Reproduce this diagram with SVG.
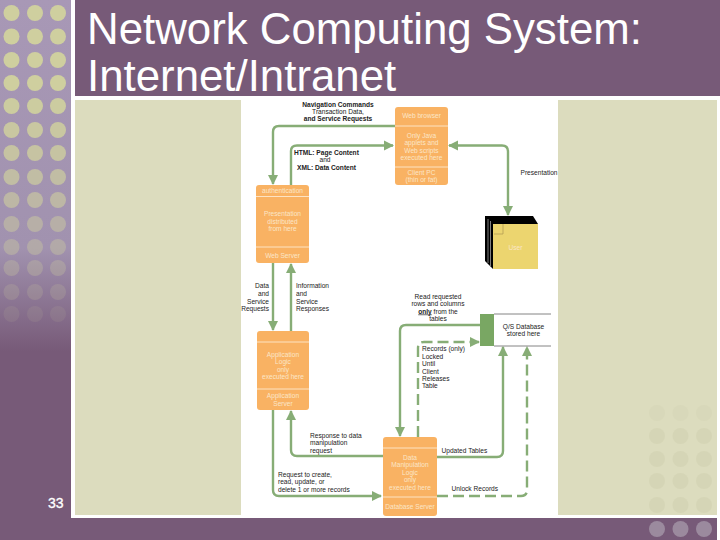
<svg xmlns="http://www.w3.org/2000/svg" width="720" height="540" viewBox="0 0 720 540">
<style>
text{font-family:"Liberation Sans",Arial,sans-serif}
.t{font-size:6.6px;fill:#222}
.b{font-weight:bold}
.c{text-anchor:middle}
.r{text-anchor:end}
.w{font-size:6.6px;fill:#fbe6c8;text-anchor:middle}
.box{fill:#f9b263}
.div{stroke:#fde3c3;stroke-width:1;fill:none}
.ln{fill:none;stroke:#87ad76;stroke-width:2.4}
.ds{stroke-dasharray:11 5}
.title{font-size:43.8px;fill:#fff}
</style>
<defs>
<linearGradient id="side" x1="0" y1="0" x2="0" y2="1">
<stop offset="0" stop-color="#a898b6"/><stop offset="0.46" stop-color="#a192af"/><stop offset="0.65" stop-color="#775a78"/><stop offset="1" stop-color="#775a78"/>
</linearGradient>
<marker id="a" viewBox="0 0 10 10" refX="9" refY="5" markerWidth="4.2" markerHeight="4.2" orient="auto-start-reverse"><path d="M0 0L10 5L0 10Z" fill="#87ad76"/></marker>
<g id="l"><circle cx="11.5" r="8"/><circle cx="35" r="8"/><circle cx="58" r="8"/></g>
<g id="q"><circle cx="657" r="8"/><circle cx="680.5" r="8"/><circle cx="704" r="8"/></g>
</defs>
<rect width="720" height="540" fill="#fff"/>
<rect x="0" y="0" width="71" height="540" fill="url(#side)"/>
<rect x="75" y="0" width="645" height="96" fill="#775a78"/>
<rect x="75" y="100" width="642" height="415" fill="#dcdcbe"/>
<rect x="0" y="518" width="717" height="22" fill="#775a78"/>
<g fill="#cfcf9f">
<use href="#l" y="13"/><use href="#l" y="36.5"/><use href="#l" y="60"/><use href="#l" y="83"/><use href="#l" y="106" opacity=".95"/><use href="#l" y="130" opacity=".88"/><use href="#l" y="153" opacity=".8"/><use href="#l" y="177" opacity=".7"/><use href="#l" y="200" opacity=".6"/><use href="#l" y="224" opacity=".48"/><use href="#l" y="247" opacity=".38"/><use href="#l" y="268" opacity=".28"/><use href="#l" y="292" opacity=".18"/><use href="#l" y="314" opacity=".1"/>
</g>
<g fill="#c8c8a6" opacity=".3">
<use href="#q" y="413" opacity=".5"/><use href="#q" y="436"/><use href="#q" y="459"/><use href="#q" y="481"/><use href="#q" y="505"/>
</g>
<use href="#q" y="529" fill="#9b8a9e"/>
<text class="title" x="87" y="44">Network Computing System:</text>
<text class="title" x="87" y="91">Internet/Intranet</text>
<text x="48" y="508" font-size="14" fill="#fff" stroke="#fff" stroke-width=".3">33</text>
<rect x="241" y="100" width="317" height="415" fill="#fff"/>
<g id="connectors">
<path class="ln" d="M395 126H279Q273 126 273 132V184" marker-end="url(#a)"/>
<path class="ln" d="M291 185V151Q291 145.500 297 145.500H393" marker-end="url(#a)"/>
<path class="ln" d="M449 145.500H502Q508 145.500 508 151.500V215" marker-start="url(#a)" marker-end="url(#a)"/>
<path class="ln" d="M273 263V330" marker-end="url(#a)"/>
<path class="ln" d="M291 331V264" marker-end="url(#a)"/>
<path class="ln" d="M480 325H406Q400 325 400 331V436" marker-end="url(#a)"/>
<path class="ln ds" d="M418 437V348Q418 342 424 342H479" marker-end="url(#a)"/>
<path class="ln" d="M437 457H497Q503 457 503 451V347" marker-end="url(#a)"/>
<path class="ln ds" d="M437 496H521Q527 496 527 490V347" marker-end="url(#a)"/>
<path class="ln" d="M383 456H297Q291 456 291 450V411" marker-end="url(#a)"/>
<path class="ln" d="M273 410V490Q273 496 279 496H381" marker-end="url(#a)"/>
</g>
<g id="web-browser">
<rect class="box" x="395" y="107" width="53" height="78" rx="3"/>
<path class="div" d="M395 126H448M395 167H448"/>
<text class="w" x="421.500" y="118">Web browser</text>
<text class="w" x="421.500" y="137.500">Only Java</text>
<text class="w" x="421.500" y="145">applets and</text>
<text class="w" x="421.500" y="152.500">Web scripts</text>
<text class="w" x="421.500" y="160">executed here</text>
<text class="w" x="421.500" y="174.500">Client PC</text>
<text class="w" x="421.500" y="182">(thin or fat)</text>
</g>
<g id="web-server">
<rect class="box" x="256" y="185" width="53" height="78" rx="3"/>
<path class="div" d="M256 196.500H309M256 247H309"/>
<text class="w" x="282.500" y="192.500">authentication</text>
<text class="w" x="282.500" y="215.500">Presentation</text>
<text class="w" x="282.500" y="224">distributed</text>
<text class="w" x="282.500" y="231">from here</text>
<text class="w" x="282.500" y="257.500">Web Server</text>
</g>
<g id="application-server">
<rect class="box" x="257" y="331" width="52" height="79" rx="3"/>
<path class="div" d="M257 342H309M257 389H309"/>
<text class="w" x="283" y="356.500">Application</text>
<text class="w" x="283" y="364">Logic</text>
<text class="w" x="283" y="371.500">only</text>
<text class="w" x="283" y="379">executed here</text>
<text class="w" x="283" y="398">Application</text>
<text class="w" x="283" y="406">Server</text>
</g>
<g id="database-server">
<rect class="box" x="383" y="437" width="54" height="79" rx="3"/>
<path class="div" d="M383 448H437M383 497H437"/>
<text class="w" x="410" y="459.500">Data</text>
<text class="w" x="410" y="467">Manipulation</text>
<text class="w" x="410" y="474.500">Logic</text>
<text class="w" x="410" y="482">only</text>
<text class="w" x="410" y="489.500">executed here</text>
<text class="w" x="410" y="508.500">Database Server</text>
</g>
<g id="user">
<path d="M485 216H533L538 224V269H493L485 261Z" fill="#000"/>
<path d="M488 219V263M490.500 221V266" stroke="#fff" stroke-width=".5" fill="none"/>
<rect x="493" y="224" width="45" height="45" fill="#ecd56f"/>
<path d="M494 234H503V224" fill="none" stroke="#b09a50" stroke-width=".7"/>
<text class="w" x="515.500" y="250">User</text>
</g>
<g id="database">
<path d="M494 314H551M494 346H551" stroke="#666" stroke-width=".8" fill="none"/>
<rect x="480" y="314" width="14" height="32" fill="#79a763"/>
<text class="t c" x="523.500" y="328.500">Q/S Database</text>
<text class="t c" x="523.500" y="336">stored here</text>
</g>
<g id="labels">
<text class="t c b" x="338" y="106.500">Navigation Commands</text>
<text class="t c" x="338" y="114">Transaction Data,</text>
<text class="t c b" x="338" y="121">and Service Requests</text>
<text class="t b" x="294" y="154.500">HTML: Page Content</text>
<text class="t c" x="325" y="162">and</text>
<text class="t b" x="297" y="169.500">XML: Data Content</text>
<text class="t" x="520.500" y="174.500">Presentation</text>
<text class="t r" x="269" y="288">Data</text>
<text class="t r" x="269" y="296">and</text>
<text class="t r" x="269" y="303.500">Service</text>
<text class="t r" x="269" y="311">Requests</text>
<text class="t" x="296" y="288">Information</text>
<text class="t" x="296" y="296">and</text>
<text class="t" x="296" y="303.500">Service</text>
<text class="t" x="296" y="311">Responses</text>
<text class="t c" x="438" y="298.500">Read requested</text>
<text class="t c" x="438" y="306">rows and columns</text>
<text class="t c" x="438" y="313.500"><tspan text-decoration="underline" font-weight="bold">only</tspan> from the</text>
<text class="t c" x="438" y="321">tables</text>
<text class="t" x="422" y="351">Records (only)</text>
<text class="t" x="422" y="358.500">Locked</text>
<text class="t" x="422" y="366">Until</text>
<text class="t" x="422" y="373.500">Client</text>
<text class="t" x="422" y="381">Releases</text>
<text class="t" x="422" y="388">Table</text>
<text class="t" x="310" y="437.500">Response to data</text>
<text class="t" x="310" y="445">manipulation</text>
<text class="t" x="310" y="453">request</text>
<text class="t" x="441.500" y="453">Updated Tables</text>
<text class="t" x="278" y="476.500">Request to create,</text>
<text class="t" x="278" y="484">read, update, or</text>
<text class="t" x="278" y="491.500">delete 1 or more records</text>
<text class="t" x="451.500" y="491">Unlock Records</text>
</g>
</svg>
